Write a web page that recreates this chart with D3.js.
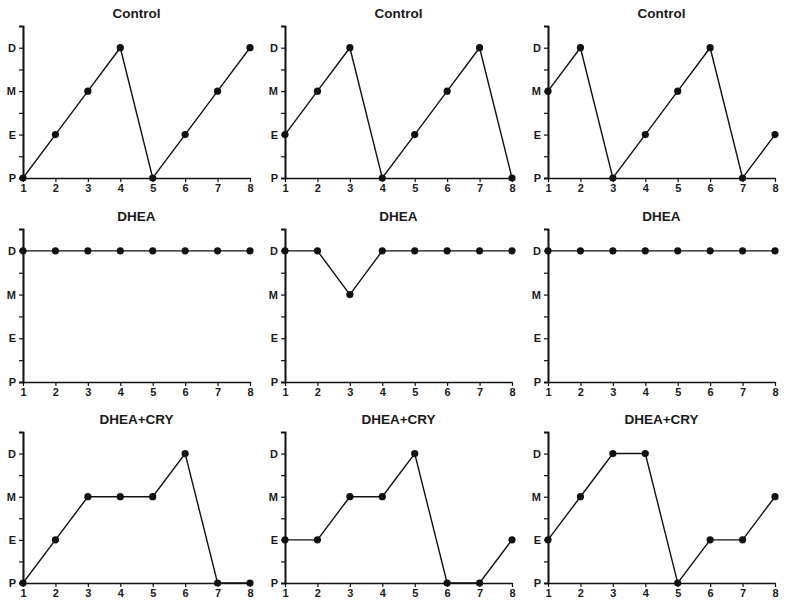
<!DOCTYPE html>
<html>
<head>
<meta charset="utf-8">
<script src="https://cdn.jsdelivr.net/npm/d3@7"></script>
<style>
  body { margin: 0; background: #fff; }
  svg { display: block; }
  text { font-family: "Liberation Sans", Arial, sans-serif; font-weight: bold; fill: #1a1a1a; }
</style>
</head>
<body>
<div id="chart"></div>
<script>
// stage codes on the y axis, days on the x axis
var stages = ["P", "E", "M", "D"];
var days = [1, 2, 3, 4, 5, 6, 7, 8];

var titles = ["Control", "Control", "Control",
              "DHEA", "DHEA", "DHEA",
              "DHEA+CRY", "DHEA+CRY", "DHEA+CRY"];

// stage index per day (0 = P, 1 = E, 2 = M, 3 = D)
var control1 = [0, 1, 2, 3, 0, 1, 2, 3];
var control2 = [1, 2, 3, 0, 1, 2, 3, 0];
var control3 = [2, 3, 0, 1, 2, 3, 0, 1];
var dhea1 = [3, 3, 3, 3, 3, 3, 3, 3];
var dhea2 = [3, 3, 2, 3, 3, 3, 3, 3];
var dhea3 = [3, 3, 3, 3, 3, 3, 3, 3];
var dheacry1 = [0, 1, 2, 2, 2, 3, 0, 0];
var dheacry2 = [1, 1, 2, 2, 3, 0, 0, 1];
var dheacry3 = [1, 2, 3, 3, 0, 1, 1, 2];

var series = [control1, control2, control3, dhea1, dhea2, dhea3, dheacry1, dheacry2, dheacry3];

var width = 787, height = 608;

// panel frames: axis origin x / right end, and top / bottom of y axis
var colX = [[23, 250], [285, 512], [548, 775]];
var rowY = [[26, 178], [229, 382], [432, 583]];

var svg = d3.select("#chart").append("svg")
    .attr("width", width)
    .attr("height", height);

series.forEach(function(vals, i) {
    var c = i % 3, r = Math.floor(i / 3);
    var x = d3.scaleLinear().domain([1, 8]).range(colX[c]);
    var y = d3.scaleLinear().domain([0, 3.5]).range([rowY[r][1], rowY[r][0]]);

    var g = svg.append("g");

    g.append("text")
        .attr("x", (colX[c][0] + colX[c][1]) / 2)
        .attr("y", rowY[r][0] - 8)
        .attr("text-anchor", "middle")
        .style("font-size", "13.5px")
        .text(titles[i]);

    // minor ticks on y
    var yMinor = d3.axisLeft(y).tickValues([0.5, 1.5, 2.5, 3.5]).tickSize(4).tickFormat("");
    g.append("g")
        .attr("transform", "translate(" + colX[c][0] + ",0)")
        .call(yMinor);

    var yAxis = d3.axisLeft(y)
        .tickValues([0, 1, 2, 3])
        .tickSize(4)
        .tickPadding(3)
        .tickFormat(function(d) { return stages[d]; });
    g.append("g")
        .attr("transform", "translate(" + colX[c][0] + ",0)")
        .call(yAxis);

    var xAxis = d3.axisBottom(x)
        .tickValues(days)
        .tickSize(4)
        .tickPadding(2)
        .tickFormat(d3.format("d"))
        .tickSizeOuter(0);
    g.append("g")
        .attr("transform", "translate(0," + rowY[r][1] + ")")
        .call(xAxis);

    g.selectAll(".domain").attr("stroke", "#111").attr("stroke-width", 1.6);
    g.selectAll(".tick line").attr("stroke", "#111").attr("stroke-width", 1.2);
    g.selectAll(".tick text").style("font-size", "11px").attr("fill", "#1a1a1a")
        .style("font-family", "Liberation Sans, Arial, sans-serif").style("font-weight", "bold");

    var line = d3.line()
        .x(function(d, j) { return x(days[j]); })
        .y(function(d) { return y(d); });

    g.append("path")
        .datum(vals)
        .attr("d", line)
        .attr("fill", "none")
        .attr("stroke", "#111")
        .attr("stroke-width", 1.4);

    g.selectAll(".dot")
        .data(vals)
        .enter()
        .append("circle")
        .attr("class", "dot")
        .attr("cx", function(d, j) { return x(days[j]); })
        .attr("cy", function(d) { return y(d); })
        .attr("r", 3.6)
        .attr("fill", "#111");
});
</script>
</body>
</html>
